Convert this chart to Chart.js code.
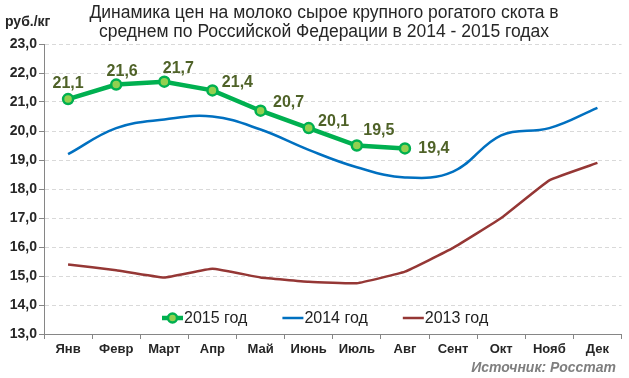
<!DOCTYPE html>
<html>
<head>
<meta charset="utf-8">
<script src="https://cdn.jsdelivr.net/npm/chart.js@4.4.0/dist/chart.umd.min.js"></script>
<style>
    body { margin: 0; background: #fff; }
    #milk-chart { display: block; }
</style>
</head>
<body>
<canvas id="milk-chart" width="629" height="378"></canvas>
<script>
var month_labels = ['Янв', 'Февр', 'Март', 'Апр', 'Май', 'Июнь', 'Июль', 'Авг', 'Сент', 'Окт', 'Нояб', 'Дек'];
var series_names = ['2015 год', '2014 год', '2013 год'];
var values_2015 = [21.1, 21.6, 21.7, 21.4, 20.7, 20.1, 19.5, 19.4, null, null, null, null];
var values_2014 = [19.2, 20.1, 20.4, 20.5, 20.05, 19.35, 18.75, 18.4, 18.6, 19.85, 20.1, 20.8];
var values_2013 = [15.4, 15.2, 14.95, 15.25, 14.95, 14.8, 14.75, 15.15, 15.97, 17.0, 18.3, 18.9];
var title_lines = ['Динамика цен на молоко сырое крупного рогатого скота в', 'среднем по Российской Федерации в 2014 - 2015 годах'];
var unit_label = 'руб./кг';
var source_label = 'Источник: Росстат';

var FONT = '"Liberation Sans", Arial, sans-serif';

function fmt(v) {
    return v.toFixed(1).replace('.', ',');
}

// label offsets from each 2015 point
var label_offsets = [[0, -16], [6, -13], [14, -13], [25, -8], [28, -8], [25, -7], [22, -15], [29, 0]];

var decorPlugin = {
    id: 'decor',
    afterDatasetsDraw: function (chart) {
        var ctx = chart.ctx;
        ctx.save();

        // data labels for 2015
        var meta = chart.getDatasetMeta(0);
        ctx.font = 'bold 16px ' + FONT;
        ctx.fillStyle = '#4F6228';
        ctx.textAlign = 'center';
        ctx.textBaseline = 'middle';
        meta.data.forEach(function (pt, i) {
            var v = values_2015[i];
            if (v === null || !label_offsets[i]) return;
            ctx.fillText(fmt(v), pt.x + label_offsets[i][0], pt.y + label_offsets[i][1]);
        });

        // legend inside plot area
        ctx.font = '16px ' + FONT;
        ctx.textAlign = 'left';
        var x = 162;
        var y = 318;
        chart.data.datasets.forEach(function (ds) {
            ctx.strokeStyle = ds.borderColor;
            ctx.lineWidth = ds.borderWidth;
            ctx.beginPath();
            ctx.moveTo(x, y);
            ctx.lineTo(x + 21, y);
            ctx.stroke();
            if (ds.pointRadius) {
                ctx.beginPath();
                ctx.arc(x + 10.5, y, 4.5, 0, Math.PI * 2);
                ctx.fillStyle = ds.pointBackgroundColor;
                ctx.fill();
                ctx.lineWidth = 2.5;
                ctx.strokeStyle = ds.pointBorderColor;
                ctx.stroke();
            }
            ctx.fillStyle = '#222';
            ctx.fillText(ds.label, x + 22, y + 1);
            x += 22 + ctx.measureText(ds.label).width + 35;
        });
        ctx.restore();
    },
    afterDraw: function (chart) {
        var ctx = chart.ctx;
        ctx.save();
        ctx.fillStyle = '#262626';
        ctx.textAlign = 'center';
        ctx.textBaseline = 'middle';
        ctx.font = '17.5px ' + FONT;
        ctx.fillText(title_lines[0], 324, 13);
        ctx.fillText(title_lines[1], 324, 32);

        ctx.textAlign = 'left';
        ctx.font = 'bold 14px ' + FONT;
        ctx.fillText(unit_label, 5, 22);

        ctx.textAlign = 'right';
        ctx.font = 'italic bold 14px ' + FONT;
        ctx.fillStyle = '#7F7F7F';
        ctx.fillText(source_label, 616, 368);
        ctx.restore();
    }
};

var ctx = document.getElementById('milk-chart');
var MilkChart = new Chart(ctx, {
    type: 'line',
    data: {
        labels: month_labels,
        datasets: [{
            label: series_names[0],
            data: values_2015,
            borderColor: '#00B050',
            borderWidth: 4.5,
            pointRadius: 5,
            pointBackgroundColor: '#92D050',
            pointBorderColor: '#00B050',
            pointBorderWidth: 2.5,
            tension: 0,
            spanGaps: false
        }, {
            label: series_names[1],
            data: values_2014,
            borderColor: '#0070C0',
            borderWidth: 2.5,
            pointRadius: 0,
            tension: 0.4
        }, {
            label: series_names[2],
            data: values_2013,
            borderColor: '#953735',
            borderWidth: 2.5,
            pointRadius: 0,
            tension: 0.1
        }]
    },
    plugins: [decorPlugin],
    options: {
        responsive: false,
        animation: false,
        devicePixelRatio: 1,
        layout: {
            padding: { top: 44, right: 2, left: 0, bottom: 0 }
        },
        plugins: {
            legend: { display: false },
            tooltip: { enabled: false }
        },
        scales: {
            x: {
                offset: true,
                grid: {
                    offset: true,
                    drawOnChartArea: false,
                    tickLength: 5,
                    tickColor: '#868686'
                },
                border: { color: '#868686', width: 1 },
                ticks: {
                    color: '#262626',
                    font: { family: FONT, size: 13, weight: 'bold' },
                    padding: 3,
                    maxRotation: 0,
                    autoSkip: false
                },
                afterFit: function (scale) {
                    scale.height = 44;
                }
            },
            y: {
                min: 13,
                max: 23,
                grid: {
                    color: '#D9D9D9',
                    tickColor: '#868686',
                    tickLength: 5,
                    tickBorderDash: []
                },
                border: { color: '#868686', width: 1, dash: [4, 3] },
                ticks: {
                    stepSize: 1,
                    color: '#262626',
                    font: { family: FONT, size: 14, weight: 'bold' },
                    padding: 2,
                    callback: function (v) { return fmt(v); }
                },
                afterFit: function (scale) {
                    scale.width = 44;
                }
            }
        }
    }
});
</script>
</body>
</html>
